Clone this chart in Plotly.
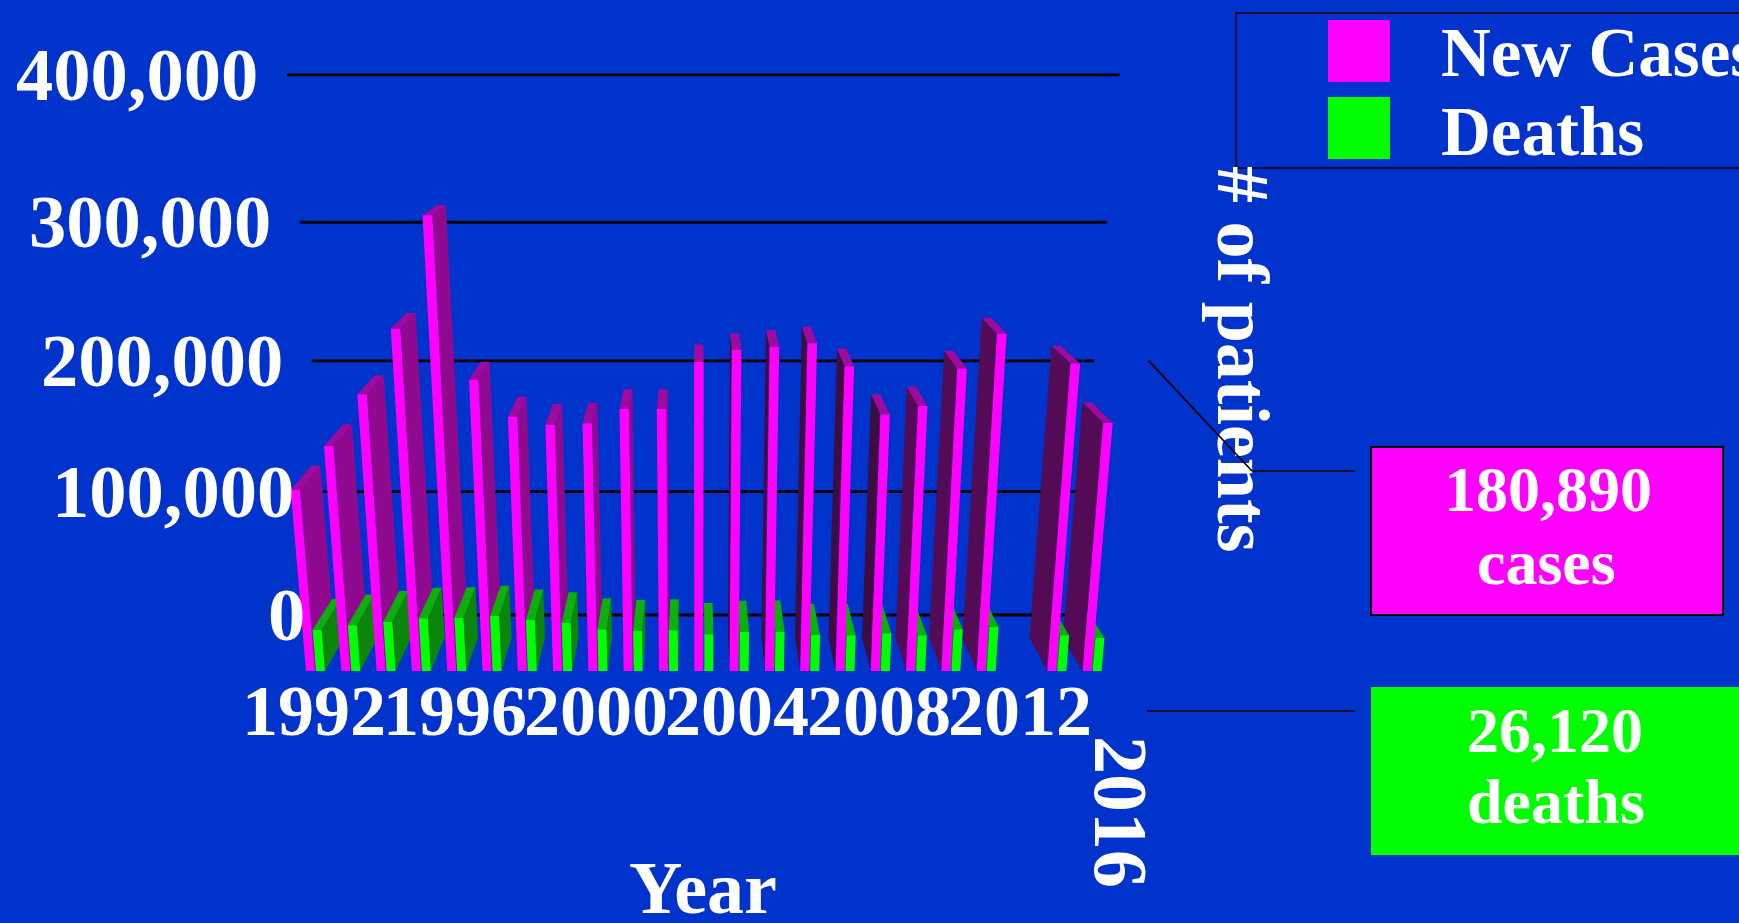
import plotly.graph_objects as go

# Yearly new cases and deaths; 2012 has no entry
years = [1992, 1993, 1994, 1995, 1996, 1997, 1998, 1999, 2000, 2001, 2002,
         2003, 2004, 2005, 2006, 2007, 2008, 2009, 2010, 2011, 2013, 2014]
new_cases = [133000, 163600, 199100, 243100, 316500, 208800, 183600, 178300,
             179300, 189100, 189100, 220900, 228900, 231100, 233400, 218000,
             185400, 191100, 216600, 239800, 220000, 179700]
deaths = [31000, 34500, 37200, 39700, 40200, 41400, 38400, 36200, 31500, 30200,
          30700, 27700, 29500, 29700, 27200, 27000, 28500, 27000, 31500, 33200,
          27000, 25200]
value_ticks = [0, 100000, 200000, 300000, 400000]
value_labels = ["0", "100,000", "200,000", "300,000", "400,000"]
year_ticks = [1992, 1996, 2000, 2004, 2008, 2012]

W, H = 1739, 923
BG = "#0033CC"
MAGENTA = "#FF00FF"
GREEN = "#00FF00"
SERIF = "Liberation Serif"

# Perspective of the 3D chart box
BASE_X, SLOT_W, BASE_Y = 306.0, 35.3, 671.0
RISE, TILT = 150.0, 0.028
VANISH_X, HORIZON_Y, NADIR_Y = 698.0, 20.0, 5300.0
BAR_DEPTH, WALL_DEPTH = 0.051, 0.086
BAR_W, GREEN_OFFSET = 0.255, 0.283
WALL_LEFT, WALL_RIGHT = -0.19, 22.69
PX_PER_VALUE = 140.0 / 100000.0


def project(slot, value, depth=0.0):
    """Map slot, value and depth to the slot/value axes of the flat plot."""
    v = value / 100000.0
    py = (BASE_Y - RISE * v) / (1 - TILT * v)
    stretch = (NADIR_Y - py) / (NADIR_Y - BASE_Y)
    px = VANISH_X + (BASE_X + SLOT_W * slot - VANISH_X) * stretch
    px += depth * (VANISH_X - px)
    py += depth * (HORIZON_Y - py)
    return (px - BASE_X) / SLOT_W, (BASE_Y - py) / PX_PER_VALUE


def face(points, color, hover=None):
    xs, ys = zip(*(points + points[:1]))
    return go.Scatter(x=xs, y=ys, mode="lines", fill="toself", fillcolor=color,
                      line=dict(width=0, color=color), showlegend=False,
                      hoverinfo="text" if hover else "skip", hovertext=hover,
                      hoveron="fills")


def bar_traces(slot, value, front, side_left, side_right, top, label):
    left, right = slot, slot + BAR_W
    fl_b, fr_b = project(left, 0), project(right, 0)
    fl_t, fr_t = project(left, value), project(right, value)
    bl_b, br_b = project(left, 0, BAR_DEPTH), project(right, 0, BAR_DEPTH)
    bl_t, br_t = project(left, value, BAR_DEPTH), project(right, value, BAR_DEPTH)
    out = []
    centre = (VANISH_X - BASE_X) / SLOT_W
    if right < centre:
        out.append(face([fr_b, fr_t, br_t, br_b], side_left))
    elif left > centre:
        out.append(face([fl_b, fl_t, bl_t, bl_b], side_right))
    out.append(face([fl_t, fr_t, br_t, bl_t], top))
    out.append(face([fl_b, fr_b, fr_t, fl_t], front, label))
    return out


def magenta_bar(year, value):
    # Wall-facing sides darken towards the middle of the box
    shade_right = "#3C0C42" if year < 2009 else "#520B54"
    return bar_traces(year - 1992, value, MAGENTA, "#8F0A8F", shade_right, "#9E0A9E",
                      f"{year} new cases: {value:,}")


def green_bar(year, value):
    return bar_traces(year - 1992 + GREEN_OFFSET, value, GREEN, "#0B860B", "#0B860B",
                      "#0BB00B", f"{year} deaths: {value:,}")


traces = []

# Gridlines on the back wall
for tick in value_ticks:
    a, b = project(WALL_LEFT, tick, WALL_DEPTH), project(WALL_RIGHT, tick, WALL_DEPTH)
    traces.append(go.Scatter(x=[a[0], b[0]], y=[a[1], b[1]], mode="lines",
                             line=dict(color="black", width=2.8),
                             showlegend=False, hoverinfo="skip"))

# Painter's order: work inwards from both sides towards the vanishing point
centre_year = 1992 + (VANISH_X - BASE_X) / SLOT_W
order = [i for i, y in enumerate(years) if y < centre_year]
for i in order:
    traces += magenta_bar(years[i], new_cases[i])
    traces += green_bar(years[i], deaths[i])
for i in reversed([i for i in range(len(years)) if i not in order]):
    traces += green_bar(years[i], deaths[i])
    traces += magenta_bar(years[i], new_cases[i])

fig = go.Figure(traces)


def px(x):
    return x / W


def py(y):
    return 1 - y / H


def text(label, x, y, size, color="white", anchor="center", angle=0):
    return dict(text=f"<b>{label}</b>", x=px(x), y=py(y), xref="paper", yref="paper",
                showarrow=False, xanchor=anchor, yanchor="middle", textangle=angle,
                font=dict(family=SERIF, size=size, color=color))


annotations = []

# Value labels sit just left of each gridline
for tick, label in zip(value_ticks, value_labels):
    gx, gy = project(WALL_LEFT, tick, WALL_DEPTH)
    annotations.append(dict(text=f"<b>{label}</b>", x=gx, y=gy, xref="x", yref="y",
                            showarrow=False, xanchor="right", yanchor="middle",
                            xshift=-27, font=dict(family=SERIF, size=74.5, color="white")))

# Year labels below the floor
for year in year_ticks:
    annotations.append(dict(text=f"<b>{year}</b>", x=year - 1992 + 0.22, y=-28600,
                            xref="x", yref="y", showarrow=False, xanchor="center",
                            yanchor="middle", font=dict(family=SERIF, size=72, color="white")))

annotations += [
    text("2016", 1121, 812, 76, angle=90),
    text("Year", 703, 888, 74),
    text("# of patients", 1243, 359, 74, angle=90),
    text("New Cases", 1439, 53, 69, anchor="left"),
    text("Deaths", 1439, 132, 69, anchor="left"),
    text("180,890", 1548, 489, 64),
    text("cases", 1546, 562, 64),
    text("26,120", 1555, 730, 64),
    text("deaths", 1556, 801, 64),
    # Diagonal leader runs across the axis title
    dict(text=" ", x=px(1252), y=py(471), xref="paper", yref="paper", showarrow=True,
         ax=1147 - 1252, ay=359 - 471, axref="pixel", ayref="pixel", arrowhead=0,
         arrowwidth=1.7, arrowcolor="black", standoff=0, startstandoff=0,
         font=dict(size=1)),
]

shapes = [
    # Legend frame and swatches
    dict(type="rect", xref="paper", yref="paper", x0=px(1236), x1=px(1790),
         y0=py(168), y1=py(13), line=dict(color="black", width=1.3)),
    dict(type="rect", xref="paper", yref="paper", x0=px(1328), x1=px(1390),
         y0=py(82), y1=py(20), fillcolor=MAGENTA, line=dict(width=0)),
    dict(type="rect", xref="paper", yref="paper", x0=px(1328), x1=px(1390),
         y0=py(159), y1=py(97), fillcolor=GREEN, line=dict(width=0)),
    # Call-out boxes
    dict(type="rect", xref="paper", yref="paper", x0=px(1371), x1=px(1723),
         y0=py(615), y1=py(447), fillcolor=MAGENTA, line=dict(color="black", width=2)),
    dict(type="rect", xref="paper", yref="paper", x0=px(1371), x1=1,
         y0=py(855), y1=py(687), fillcolor=GREEN, line=dict(width=0)),
    # Leaders to the boxes
    dict(type="line", xref="paper", yref="paper", x0=px(1252), x1=px(1355),
         y0=py(471), y1=py(471), line=dict(color="black", width=1.7)),
    dict(type="line", xref="paper", yref="paper", x0=px(1147), x1=px(1355),
         y0=py(711), y1=py(711), line=dict(color="black", width=1.7)),
]

fig.update_layout(
    width=W, height=H, autosize=False,
    margin=dict(l=0, r=0, t=0, b=0, pad=0),
    paper_bgcolor=BG, plot_bgcolor=BG,
    showlegend=False,
    xaxis=dict(range=[-BASE_X / SLOT_W, (W - BASE_X) / SLOT_W], visible=False, fixedrange=True),
    yaxis=dict(range=[(BASE_Y - H) / PX_PER_VALUE, BASE_Y / PX_PER_VALUE], visible=False, fixedrange=True),
    annotations=annotations,
    shapes=shapes,
)

fig.write_html("out.html", config=dict(displayModeBar=False))
